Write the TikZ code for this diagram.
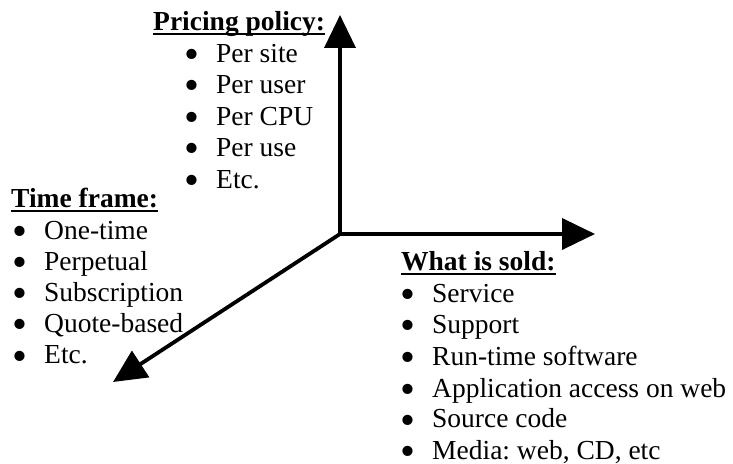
\documentclass[tikz,border=0pt]{standalone}
\usepackage{fontspec}
\setmainfont{Liberation Serif}
\usetikzlibrary{arrows.meta, positioning}

\newcommand{\bul}{\makebox[32pt][l]{\smash{\raisebox{-6pt}{\scalebox{1.55}{\textbullet}}}}}
\frenchspacing

\begin{document}
\begin{tikzpicture}[
    x=1pt, y=1pt,
    % Define styles
    header/.style={anchor=base west, inner sep=0pt, font=\fontsize{27.5}{31.5}\selectfont\bfseries},
    item/.style={anchor=base west, inner sep=0pt, font=\fontsize{27.5}{31.5}\selectfont},
    uline/.style={line width=2pt},
    axis/.style={line width=3.8pt, -{Triangle[length=33pt, width=31pt]}}
]
\useasboundingbox (0,0) rectangle (733,463);

% Axes
\coordinate (origin) at (340,229);
\coordinate (up_tip) at (340,448);
\coordinate (right_tip) at (595,229);
\coordinate (down_tip) at (113,81);

% Pricing policy
\node[header] (pp_head) at (153,432) {Pricing policy:};
\node[item] (pp_site) at (184,400.5) {\bul Per site};
\node[item] (pp_user) at (184,369) {\bul Per user};
\node[item] (pp_cpu) at (184,337.5) {\bul Per CPU};
\node[item] (pp_use) at (184,306) {\bul Per use};
\node[item] (pp_etc) at (184,274.5) {\bul Etc.};

% Time frame
\node[header] (tf_head) at (11,255) {Time frame:};
\node[item] (tf_once) at (12,223) {\bul One-time};
\node[item] (tf_perp) at (12,192) {\bul Perpetual};
\node[item] (tf_subs) at (12,161) {\bul Subscription};
\node[item] (tf_quote) at (12,130) {\bul Quote-based};
\node[item] (tf_etc) at (12,99) {\bul Etc.};

% What is sold
\node[header] (ws_head) at (401,192) {What is sold:};
\node[item] (ws_service) at (400,160) {\bul Service};
\node[item] (ws_support) at (400,129) {\bul Support};
\node[item] (ws_runtime) at (400,97.5) {\bul Run-time software};
\node[item] (ws_web) at (400,66) {\bul Application access on web};
\node[item] (ws_source) at (400,35) {\bul Source code};
\node[item] (ws_media) at (400,4) {\bul Media: web, CD, etc};

% Underlines
\draw[uline] ([yshift=-3.5pt]pp_head.base west) -- ([yshift=-3.5pt]pp_head.base east);
\draw[uline] ([yshift=-3.5pt]tf_head.base west) -- ([yshift=-3.5pt]tf_head.base east);
\draw[uline] ([yshift=-3.5pt]ws_head.base west) -- ([yshift=-3.5pt]ws_head.base east);

% Draw the axes
\draw[axis] (origin) -- (up_tip);
\draw[axis] (origin) -- (right_tip);
\draw[axis] (origin) -- (down_tip);

\end{tikzpicture}
\end{document}
